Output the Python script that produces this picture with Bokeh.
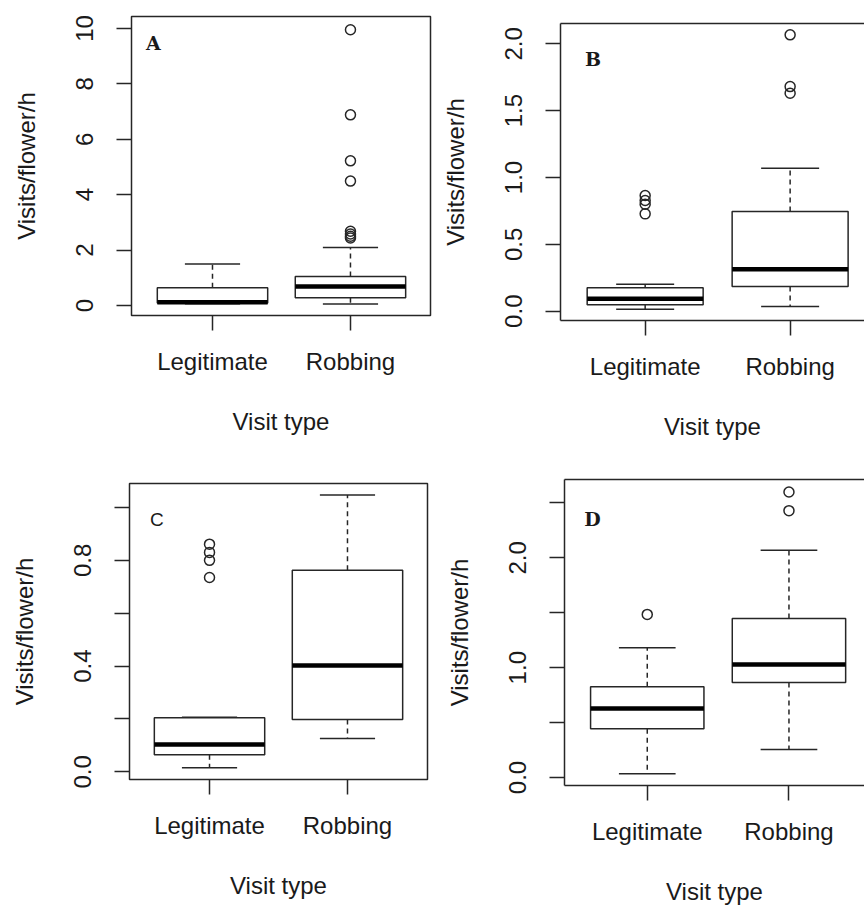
from bokeh.plotting import figure
from bokeh.models import FixedTicker, Range1d, LinearAxis, ColumnDataSource
from bokeh.layouts import row, column
from bokeh.embed import file_html
from bokeh.resources import INLINE
from bokeh.core.properties import value

# ---------------- data ----------------
categories = ["Legitimate", "Robbing"]
positions = [1, 2]

# Panel A
A_low = [0.06, 0.05]
A_q1 = [0.09, 0.28]
A_med = [0.12, 0.69]
A_q3 = [0.64, 1.05]
A_high = [1.50, 2.09]
A_out_legit = []
A_out_rob = [9.95, 6.88, 5.22, 4.49, 2.68, 2.58, 2.50, 2.44]
A_ticks = [0, 2, 4, 6, 8, 10]
A_tick_labels = ["0", "2", "4", "6", "8", "10"]

# Panel B
B_low = [0.015, 0.035]
B_q1 = [0.048, 0.185]
B_med = [0.093, 0.314]
B_q3 = [0.175, 0.746]
B_high = [0.202, 1.07]
B_out_legit = [0.865, 0.828, 0.80, 0.728]
B_out_rob = [2.067, 1.68, 1.63]
B_ticks = [0.0, 0.5, 1.0, 1.5, 2.0]
B_tick_labels = ["0.0", "0.5", "1.0", "1.5", "2.0"]

# Panel C
C_low = [0.015, 0.126]
C_q1 = [0.065, 0.198]
C_med = [0.103, 0.4025]
C_q3 = [0.2045, 0.7625]
C_high = [0.206, 1.047]
C_out_legit = [0.861, 0.83, 0.80, 0.735]
C_out_rob = []
C_ticks = [0.0, 0.2, 0.4, 0.6, 0.8, 1.0]
C_tick_labels = ["0.0", "", "0.4", "", "0.8", ""]

# Panel D
D_low = [0.034, 0.255]
D_q1 = [0.443, 0.865]
D_med = [0.628, 1.029]
D_q3 = [0.826, 1.448]
D_high = [1.181, 2.07]
D_out_legit = [1.485]
D_out_rob = [2.60, 2.43]
D_ticks = [0.0, 0.5, 1.0, 1.5, 2.0, 2.5]
D_tick_labels = ["0.0", "", "1.0", "", "2.0", ""]

x_title = "Visit type"
y_title = "Visits/flower/h"

# ---------------- style ----------------
LINE = "#262626"
TEXT = "#1a1a1a"
FONT = "Liberation Sans"
FS = "24px"
BOX_W = 0.8
STAPLE_W = 0.4


def make_panel(letter, low, q1, med, q3, high, out_legit, out_rob, ticks, tick_labels,
               W, H, left, top, right, bottom, xr, yr, letter_pos, letter_font, full_frame):
    p = figure(width=W, height=H, x_range=Range1d(*xr), y_range=Range1d(*yr),
               output_backend="svg", toolbar_location=None, title=None,
               min_border_left=left, min_border_top=top,
               min_border_right=right, min_border_bottom=bottom)
    p.xgrid.visible = False
    p.ygrid.visible = False
    p.background_fill_color = "white"
    p.border_fill_color = "white"
    if full_frame:
        p.outline_line_color = LINE
        p.outline_line_width = 1.5
    else:
        p.outline_line_color = None

    src = ColumnDataSource(dict(
        x=positions,
        l=[x - BOX_W / 2 for x in positions],
        r=[x + BOX_W / 2 for x in positions],
        sl=[x - STAPLE_W / 2 for x in positions],
        sr=[x + STAPLE_W / 2 for x in positions],
        low=low, q1=q1, med=med, q3=q3, high=high,
    ))
    # whiskers (dashed)
    p.segment(x0="x", y0="q3", x1="x", y1="high", source=src, line_color=LINE,
              line_width=1.5, line_dash="5 4")
    p.segment(x0="x", y0="q1", x1="x", y1="low", source=src, line_color=LINE,
              line_width=1.5, line_dash="5 4")
    # staples
    p.segment(x0="sl", y0="high", x1="sr", y1="high", source=src, line_color=LINE, line_width=1.5)
    p.segment(x0="sl", y0="low", x1="sr", y1="low", source=src, line_color=LINE, line_width=1.5)
    # boxes
    p.quad(left="l", right="r", bottom="q1", top="q3", source=src, fill_color="white",
           line_color=LINE, line_width=1.5)
    # medians
    p.segment(x0="l", y0="med", x1="r", y1="med", source=src, line_color="black", line_width=4.5)
    # outliers
    ox = [positions[0]] * len(out_legit) + [positions[1]] * len(out_rob)
    oy = list(out_legit) + list(out_rob)
    if oy:
        p.scatter(x=ox, y=oy, marker="circle", size=10, fill_color=None,
                  line_color=LINE, line_width=1.5)

    # panel letter
    p.text(x=[letter_pos[0]], y=[letter_pos[1]], text=[letter],
           text_font=value(letter_font[0]), text_font_style=letter_font[2],
           text_font_size=value(letter_font[1]), text_color=TEXT,
           text_align="center", text_baseline="middle")

    # x axis
    xa = p.xaxis[0]
    xa.ticker = FixedTicker(ticks=positions)
    xa.major_label_overrides = {pos: c for pos, c in zip(positions, categories)}
    xa.axis_label = x_title
    xa.axis_label_text_font = FONT
    xa.axis_label_text_font_size = FS
    xa.axis_label_text_font_style = "normal"
    xa.axis_label_text_color = TEXT
    xa.axis_label_standoff = 30
    xa.major_label_text_font = FONT
    xa.major_label_text_font_size = FS
    xa.major_label_text_color = TEXT
    xa.major_label_standoff = 17
    xa.major_tick_in = 0
    xa.major_tick_out = 15
    xa.major_tick_line_color = LINE
    xa.major_tick_line_width = 1.5
    xa.minor_tick_line_color = None
    xa.axis_line_color = None if full_frame else LINE
    xa.axis_line_width = 1.5

    ya = p.yaxis[0]
    ya.ticker = FixedTicker(ticks=ticks)
    ya.major_label_overrides = {t: lab for t, lab in zip(ticks, tick_labels)}
    ya.major_label_orientation = "vertical"
    ya.axis_label = y_title
    ya.axis_label_text_font = FONT
    ya.axis_label_text_font_size = FS
    ya.axis_label_text_font_style = "normal"
    ya.axis_label_text_color = TEXT
    ya.axis_label_standoff = 34
    ya.major_label_text_font = FONT
    ya.major_label_text_font_size = FS
    ya.major_label_text_color = TEXT
    ya.major_label_standoff = 23
    ya.major_tick_in = 0
    ya.major_tick_out = 15
    ya.major_tick_line_color = LINE
    ya.major_tick_line_width = 1.5
    ya.minor_tick_line_color = None
    ya.axis_line_color = None if full_frame else LINE
    ya.axis_line_width = 1.5

    if not full_frame:
        top_ax = LinearAxis(ticker=FixedTicker(ticks=[]), major_label_text_font_size="0px",
                            major_tick_out=0, major_tick_in=0, minor_tick_line_color=None,
                            axis_line_color=LINE, axis_line_width=1.5)
        p.add_layout(top_ax, "above")
    return p


mono_bold = ("DejaVu Serif", "19px", "bold")
sans_norm = ("Liberation Sans", "19px", "normal")

pA = make_panel("A", A_low, A_q1, A_med, A_q3, A_high, A_out_legit, A_out_rob, A_ticks, A_tick_labels,
                W=432, H=454, left=131, top=16, right=2, bottom=139,
                xr=(0.413, 2.58), yr=(-0.361, 10.43), letter_pos=(0.572, 9.49),
                letter_font=mono_bold, full_frame=True)
pB = make_panel("B", B_low, B_q1, B_med, B_q3, B_high, B_out_legit, B_out_rob, B_ticks, B_tick_labels,
                W=432, H=454, left=128, top=23, right=0, bottom=134,
                xr=(0.416, 2.513), yr=(-0.0696, 2.152), letter_pos=(0.641, 1.888),
                letter_font=mono_bold, full_frame=False)
pC = make_panel("C", C_low, C_q1, C_med, C_q3, C_high, C_out_legit, C_out_rob, C_ticks, C_tick_labels,
                W=432, H=454, left=129, top=29, right=5, bottom=129,
                xr=(0.42, 2.58), yr=(-0.029, 1.0905), letter_pos=(0.619, 0.956),
                letter_font=sans_norm, full_frame=True)
pD = make_panel("D", D_low, D_q1, D_med, D_q3, D_high, D_out_legit, D_out_rob, D_ticks, D_tick_labels,
                W=432, H=454, left=132, top=25, right=0, bottom=123,
                xr=(0.416, 2.533), yr=(-0.073, 2.714), letter_pos=(0.614, 2.35),
                letter_font=mono_bold, full_frame=False)

# wrap each panel separately so that the panels keep their own frame positions
layout = column(row(column(pA), column(pB)), row(column(pC), column(pD)))
open("out.html", "w").write(file_html(layout, INLINE))
